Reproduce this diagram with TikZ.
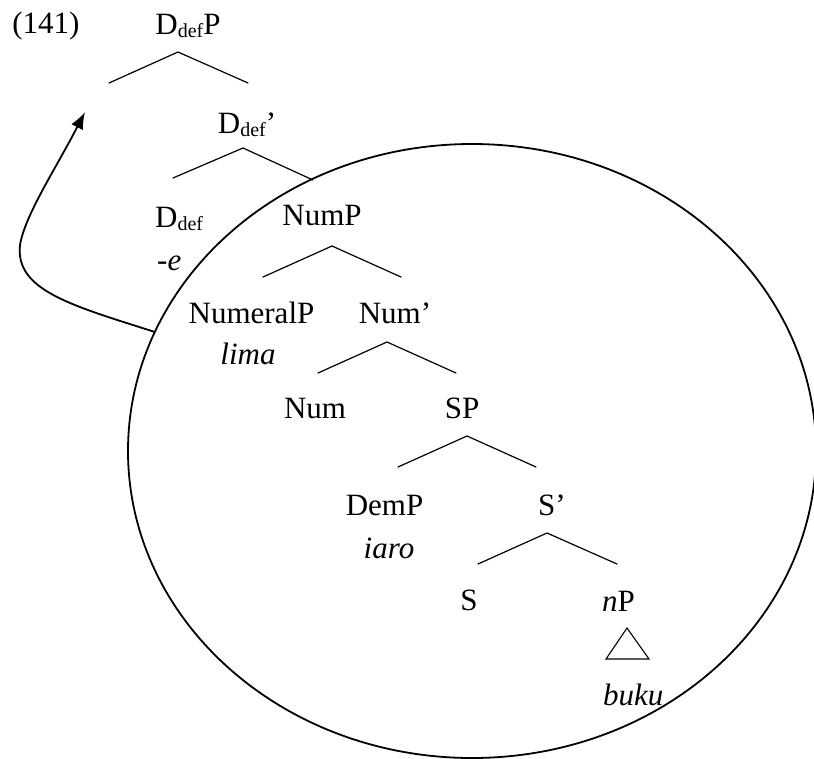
\documentclass[tikz,border=0pt]{standalone}
\usepackage{fontspec}
\setmainfont{Liberation Serif}
\usetikzlibrary{arrows.meta}
% lowered small subscript used in category labels
\newcommand{\catsub}[1]{\raisebox{-3pt}{\fontsize{20}{20}\selectfont #1}}

\begin{document}
\begin{tikzpicture}[x=1pt,y=-1pt,
  lab/.style={anchor=base, inner sep=0pt, font=\fontsize{31}{36}\selectfont},
  labw/.style={lab, anchor=base west},
  branch/.style={line width=1.2pt, line cap=round},
  ring/.style={line width=1.8pt},
  movearrow/.style={line width=1.8pt, -{Latex[length=17pt,width=13pt]}}
]
\useasboundingbox (0,0) rectangle (814,758);
\clip (0,0) rectangle (814,758);

% example number
\node[lab] (exnum) at (46,33) {(141)};

% labels of the tree
\node[lab] (ddefp)  at (188,34)  {D\catsub{def}P};
\node[lab] (ddefbar) at (247,133) {D\catsub{def}’};
\node[labw] (ddef)  at (155,227) {D\catsub{def}};
\node[labw] (esuf)  at (157,270) {-\textit{e}};
\node[lab] (nump)   at (322,225) {NumP};
\node[lab] (numeralp) at (251.5,323) {NumeralP};
\node[lab] (lima)   at (248,364) {\textit{lima}};
\node[lab] (numbar) at (395,323) {Num’};
\node[lab] (num)    at (315,418) {Num};
\node[lab] (sp)     at (462,418) {SP};
\node[lab] (demp)   at (384.5,515) {DemP};
\node[lab] (iaro)   at (389,558) {\textit{iaro}};
\node[lab] (sbar)   at (552,515) {S’};
\node[lab] (s)      at (469,610) {S};
\node[labw] (np)    at (602,611) {\textit{n}P};
\node[labw] (buku)  at (603,705) {\textit{buku}};

% branch points
\coordinate (a1) at (178,52);  \coordinate (l1) at (109,83);  \coordinate (r1) at (248,83);
\coordinate (a2) at (243,148); \coordinate (l2) at (173,178); \coordinate (r2) at (313,180);
\coordinate (a3) at (332,246); \coordinate (l3) at (263,277); \coordinate (r3) at (401,277);
\coordinate (a4) at (387,342); \coordinate (l4) at (318,373); \coordinate (r4) at (456,373);
\coordinate (a5) at (467,436); \coordinate (l5) at (398,467); \coordinate (r5) at (536,467);
\coordinate (a6) at (547,533); \coordinate (l6) at (478,564); \coordinate (r6) at (617,564);

\foreach \k in {1,...,6} {
  \draw[branch] (l\k) -- (a\k) -- (r\k);
}

% triangle over the nP
\coordinate (ta) at (627,628);
\coordinate (tl) at (606,659);
\coordinate (tr) at (649,659);
\draw[line width=1.1pt, line join=miter] (ta) -- (tl) -- (tr) -- cycle;

% the encircled constituent
\coordinate (ringc) at (472,451);
\draw[ring] (ringc) ellipse [x radius=344pt, y radius=307pt];

% movement arrow from the circle to the specifier
\coordinate (mvfrom) at (155,332);
\coordinate (mvbend) at (20,245);
\coordinate (mvto) at (85,112);
\draw[movearrow] (mvfrom) .. controls (70,305) and (15,290) .. (mvbend)
  .. controls (25,215) and (55,170) .. (mvto);
\end{tikzpicture}
\end{document}
